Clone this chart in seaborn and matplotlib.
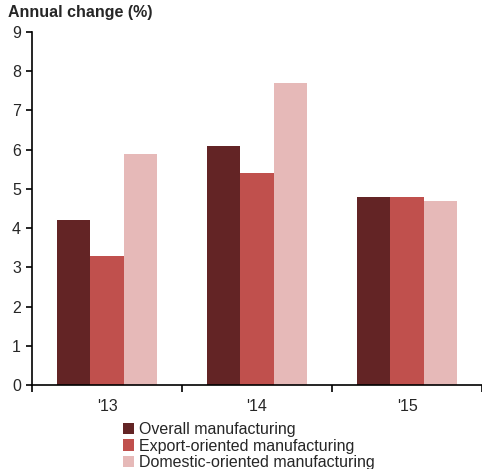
import matplotlib
matplotlib.use("Agg")
import matplotlib.pyplot as plt
import seaborn as sns
import pandas as pd
from matplotlib.ticker import FixedLocator

years = ["'13", "'14", "'15"]
series = ["Overall manufacturing", "Export-oriented manufacturing", "Domestic-oriented manufacturing"]
overall = [4.2, 6.1, 4.8]
export = [3.3, 5.4, 4.8]
domestic = [5.9, 7.7, 4.7]
colors = ["#632425", "#C0504D", "#E6B9B8"]

rows = []
for s, vals in zip(series, [overall, export, domestic]):
    for y, v in zip(years, vals):
        rows.append({"year": y, "series": s, "value": v})
df = pd.DataFrame(rows)

sns.set_style("white")
plt.rcParams['font.family'] = ['Liberation Sans', 'DejaVu Sans']

fig = plt.figure(figsize=(4.82, 4.69), dpi=100)
ax = fig.add_axes([32/482, 1-385/469, 1-32/482, (385-32)/469])

sns.barplot(data=df, x="year", y="value", hue="series", palette=colors,
            width=0.667, saturation=1, linewidth=0, ax=ax, legend=True)

ax.set_xlim(-0.5, 2.5)
ax.set_ylim(0, 9)
ax.set_yticks(range(0, 10))
ax.set_xlabel("")
ax.set_ylabel("")
for s in ["top", "right"]:
    ax.spines[s].set_visible(False)
for s in ["left", "bottom"]:
    ax.spines[s].set_color("black")
    ax.spines[s].set_linewidth(1.2)

ax.tick_params(axis="y", which="major", direction="out", length=4, width=1.2,
               color="black", labelsize=11.5, pad=4, left=True)
ax.tick_params(axis="x", which="major", length=0, labelsize=11.5, pad=10)
ax.xaxis.set_minor_locator(FixedLocator([-0.5, 0.5, 1.5, 2.5]))
ax.tick_params(axis="x", which="minor", direction="out", length=5, width=1.2,
               color="black", bottom=True)

fig.text(8/482, 1-12/469, "Annual change (%)", fontsize=11.5, fontweight="bold",
         va="center", ha="left")

ax.legend(loc="upper left", bbox_to_anchor=(123/482, 1-422/469),
          bbox_transform=fig.transFigure, frameon=False, fontsize=11.5,
          handlelength=0.7, handleheight=0.7, handletextpad=0.3,
          labelspacing=0.1, borderpad=0, borderaxespad=0)

fig.savefig("out.png", dpi=100)
